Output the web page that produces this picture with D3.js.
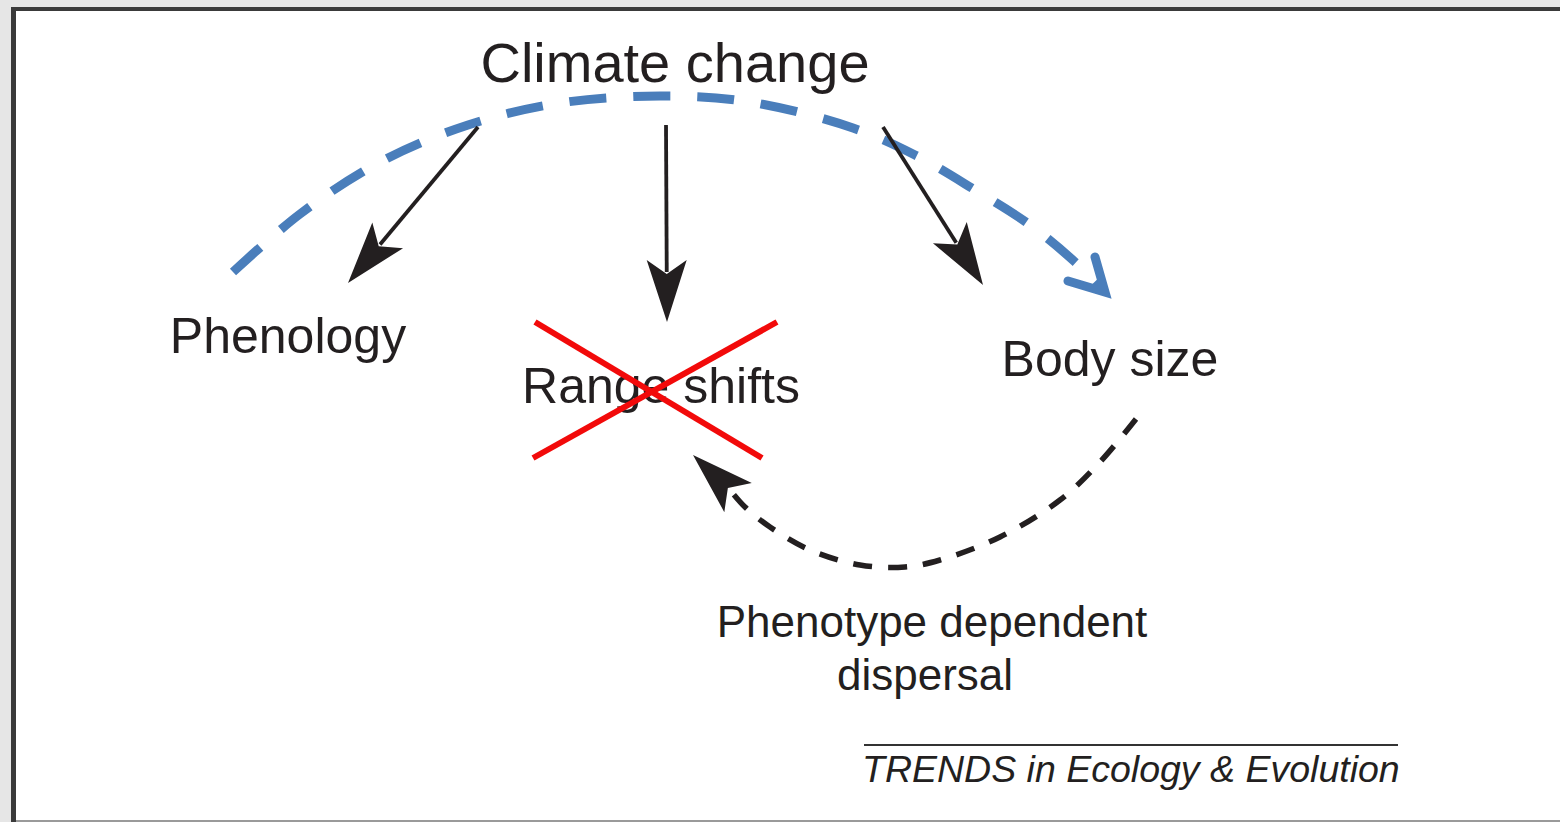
<!DOCTYPE html>
<html>
<head>
<meta charset="utf-8">
<script src="https://cdn.jsdelivr.net/npm/d3@7/dist/d3.min.js"></script>
<style>
  html, body { margin: 0; padding: 0; background: #e6e6e6; overflow: hidden; }
  text { font-family: "Liberation Sans", Arial, Helvetica, sans-serif; fill: #231f20; }
</style>
</head>
<body>
<svg id="diagram"></svg>
<script>
// ---- data ----
var nodeNames = ["Climate change", "Phenology", "Range shifts", "Body size"];
var dispersalLines = ["Phenotype dependent", "dispersal"];
var creditText = "TRENDS in Ecology & Evolution";

// direct effects of climate change
var directFrom = ["Climate change", "Climate change", "Climate change"];
var directTo = ["Phenology", "Range shifts", "Body size"];
// indirect routes
var indirectFrom = ["Phenology", "Body size"];
var indirectTo = ["Body size", "Range shifts"];
var blockedNodes = ["Range shifts"];

// ---- layout ----
var dimensions = { width: 1560, height: 822 };

var x = d3.scaleLinear().domain([0, dimensions.width]).range([0, dimensions.width]);
var y = d3.scaleLinear().domain([0, dimensions.height]).range([0, dimensions.height]);

var nodePos = {
  "Climate change": { x: 675, y: 82, size: 56 },
  "Phenology": { x: 288, y: 353, size: 50 },
  "Range shifts": { x: 661, y: 403, size: 50 },
  "Body size": { x: 1110, y: 376, size: 50 }
};

// straight arrows: start of shaft, arrow tip
var directArrows = {
  "Phenology": { from: [478, 127], tip: [348, 283] },
  "Range shifts": { from: [666, 125], tip: [667, 322] },
  "Body size": { from: [883, 127], tip: [983, 285] }
};

// curved paths
var bluePath = [[233, 272], [300, 214], [380, 162], [468, 125], [560, 103], [660, 96],
                [750, 102], [853, 128], [915, 155], [975, 190], [1030, 225], [1075, 262], [1100, 287]];
var blackPath = [[1136, 419], [1100, 462], [1060, 500], [1000, 537], [940, 560], [905, 567],
                 [860, 565], [810, 550], [770, 527], [745, 507], [730, 490]];
var blackTip = [693, 455];
var blueChevron = [[1068, 281], [1105, 292], [1095, 257]];

var crossLines = [
  [[535, 322], [762, 458]],
  [[533, 458], [777, 322]]
];

var svg = d3.select("#diagram")
  .attr("width", dimensions.width)
  .attr("height", dimensions.height);

// panel with frame
svg.append("rect")
  .attr("x", x(11)).attr("y", y(7))
  .attr("width", dimensions.width).attr("height", y(813))
  .attr("fill", "#ffffff");
svg.append("line")
  .attr("x1", x(13.5)).attr("x2", x(13.5))
  .attr("y1", y(7)).attr("y2", y(822))
  .attr("stroke", "#3a3a3a").attr("stroke-width", 5);
svg.append("line")
  .attr("x1", x(11)).attr("x2", x(1560))
  .attr("y1", y(9)).attr("y2", y(9))
  .attr("stroke", "#3a3a3a").attr("stroke-width", 4);
svg.append("line")
  .attr("x1", x(16)).attr("x2", x(1560))
  .attr("y1", y(821)).attr("y2", y(821))
  .attr("stroke", "#9a9a9a").attr("stroke-width", 2);

var ink = "#231f20";
var lineGen = d3.line().x(function(d) { return x(d[0]); }).y(function(d) { return y(d[1]); });
var curveGen = d3.line().x(function(d) { return x(d[0]); }).y(function(d) { return y(d[1]); })
  .curve(d3.curveCatmullRom.alpha(0.5));

// barbed arrow head pointing along angle (degrees)
var headL = 62, headW = 20, headN = 48;
function arrowHead(tip, angle) {
  var pts = [[0, 0], [-headL, -headW], [-headN, 0], [-headL, headW]];
  svg.append("path")
    .attr("d", d3.line()(pts) + "Z")
    .attr("transform", "translate(" + x(tip[0]) + "," + y(tip[1]) + ") rotate(" + angle + ")")
    .attr("fill", ink);
}

// blue dashed arc (phenology -> body size)
svg.append("path")
  .attr("d", curveGen(bluePath))
  .attr("fill", "none")
  .attr("stroke", "#4a7ebb")
  .attr("stroke-width", 9)
  .attr("stroke-dasharray", "37,27");
svg.append("path")
  .attr("d", lineGen(blueChevron))
  .attr("fill", "none")
  .attr("stroke", "#4a7ebb")
  .attr("stroke-width", 9)
  .attr("stroke-linecap", "round")
  .attr("stroke-linejoin", "miter");

// direct arrows
directTo.forEach(function(name) {
  var a = directArrows[name];
  var dx = a.tip[0] - a.from[0], dy = a.tip[1] - a.from[1];
  var len = Math.sqrt(dx * dx + dy * dy);
  var ang = Math.atan2(dy, dx) * 180 / Math.PI;
  var end = [a.tip[0] - dx / len * (headN + 2), a.tip[1] - dy / len * (headN + 2)];
  svg.append("path")
    .attr("d", lineGen([a.from, end]))
    .attr("stroke", ink)
    .attr("stroke-width", 3.8)
    .attr("fill", "none");
  arrowHead(a.tip, ang);
});

// black dashed arc (body size -> range shifts)
svg.append("path")
  .attr("d", curveGen(blackPath))
  .attr("fill", "none")
  .attr("stroke", ink)
  .attr("stroke-width", 5.5)
  .attr("stroke-dasharray", "19,16");
var last = blackPath[blackPath.length - 1];
arrowHead(blackTip, Math.atan2(blackTip[1] - last[1], blackTip[0] - last[0]) * 180 / Math.PI);

// node labels
nodeNames.forEach(function(name) {
  var p = nodePos[name];
  svg.append("text")
    .attr("x", x(p.x)).attr("y", y(p.y))
    .attr("text-anchor", "middle")
    .style("font-size", p.size + "px")
    .text(name);
});

// dispersal label
var dispPos = [[932, 637], [925, 690]];
dispersalLines.forEach(function(t, i) {
  svg.append("text")
    .attr("x", x(dispPos[i][0])).attr("y", y(dispPos[i][1]))
    .attr("text-anchor", "middle")
    .style("font-size", "44px")
    .text(t);
});

// red cross over blocked node
blockedNodes.forEach(function() {
  crossLines.forEach(function(l) {
    svg.append("path")
      .attr("d", lineGen(l))
      .attr("stroke", "#f20a0a")
      .attr("stroke-width", 6)
      .attr("fill", "none");
  });
});

// journal credit
svg.append("line")
  .attr("x1", x(864)).attr("x2", x(1398))
  .attr("y1", y(745)).attr("y2", y(745))
  .attr("stroke", "#333").attr("stroke-width", 2);
svg.append("text")
  .attr("x", x(862)).attr("y", y(782))
  .style("font-size", "37.5px")
  .style("font-style", "italic")
  .text(creditText);
</script>
</body>
</html>
